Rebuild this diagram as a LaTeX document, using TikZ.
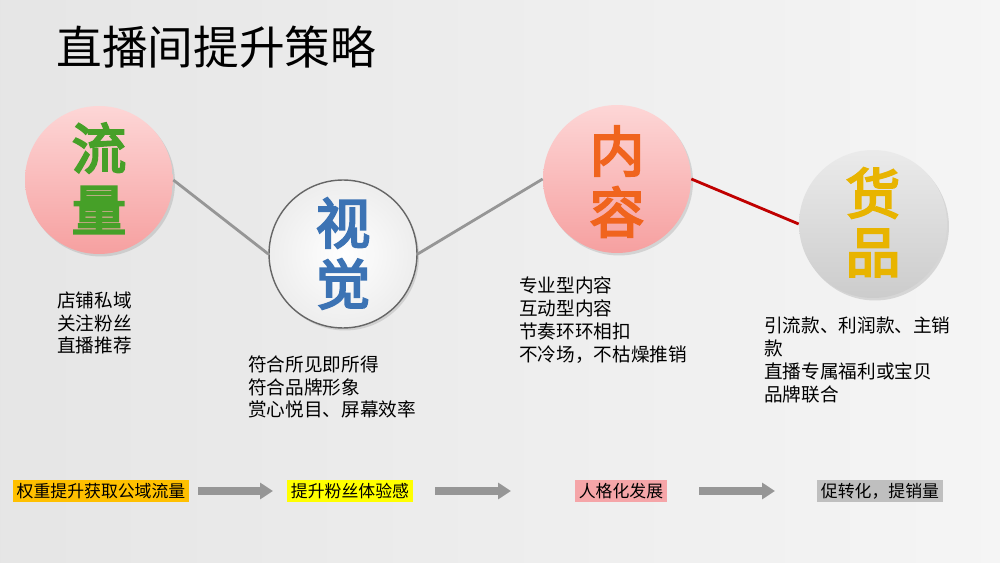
\documentclass[tikz,border=0pt]{standalone}
\usepackage{fontspec}
\setmainfont{Noto Sans CJK SC}
\newfontfamily\cjkbold[FakeBold=4]{Noto Sans CJK SC}
\usetikzlibrary{shadows,arrows.meta}
\definecolor{pinktop}{RGB}{253,214,214}
\definecolor{pinkbot}{RGB}{246,160,160}
\definecolor{greenc}{RGB}{70,160,40}
\definecolor{bluec}{RGB}{60,115,180}
\definecolor{orangec}{RGB}{240,100,30}
\definecolor{goldc}{RGB}{232,180,0}
\definecolor{linegray}{RGB}{150,150,150}
\definecolor{darkred}{RGB}{192,0,0}
\definecolor{boxorange}{RGB}{255,192,0}
\definecolor{boxyellow}{RGB}{255,255,0}
\definecolor{boxpink}{RGB}{245,165,168}
\definecolor{boxgray}{RGB}{191,191,191}
\definecolor{arrowgray}{RGB}{150,150,150}
\tikzset{
  ball/.style={circle, minimum size=2.96cm, inner sep=0pt,
    drop shadow={shadow xshift=0.04cm, shadow yshift=-0.05cm, opacity=0.25}},
  pinkball/.style={ball, top color=pinktop, bottom color=pinkbot},
  whiteball/.style={ball, draw=black!60, line width=0.8pt, inner color=white, outer color=black!7},
  grayball/.style={ball, top color=black!8, bottom color=black!20},
  bigchar/.style={font=\cjkbold\fontsize{31pt}{31pt}\selectfont, inner sep=0pt},
  body/.style={font=\fontsize{10.6pt}{13pt}\selectfont, align=left, anchor=west, inner sep=0pt},
  tag/.style={font=\fontsize{9.6pt}{11pt}\selectfont, inner xsep=2pt, minimum height=0.44cm, inner ysep=0pt},
  link/.style={line width=1.6pt, linegray},
  flow/.style={arrowgray, line width=0.16cm, -{Triangle[length=0.26cm, width=0.32cm]}}
}
\begin{document}
\begin{tikzpicture}[x=0.02cm, y=-0.02cm]
\useasboundingbox (0,0) rectangle (1000,563);
\shade[left color=black!10, right color=black!4] (0,0) rectangle (1000,563);

\node[anchor=west, inner sep=0pt, font=\fontsize{26pt}{26pt}\selectfont] (title) at (56,47) {直播间提升策略};

% balls
\node[pinkball] (c1) at (99,180) {};
\node[whiteball] (c2) at (343,254) {};
\node[pinkball] (c3) at (617,179) {};
\node[grayball] (c4) at (873,224) {};

% links
\draw[link] (c1.east) -- (c2.west);
\draw[link] (c2.east) -- (c3.west);
\draw[link, darkred] (c3.east) -- (c4.west);

% characters
\node[bigchar, greenc] (t1a) at (99,148) {流};
\node[bigchar, greenc] (t1b) at (99,210) {量};
\node[bigchar, bluec] (t2a) at (343,223) {视};
\node[bigchar, bluec] (t2b) at (343,284) {觉};
\node[bigchar, orangec] (t3a) at (617,151) {内};
\node[bigchar, orangec] (t3b) at (617,212) {容};
\node[bigchar, goldc] (t4a) at (873,193) {货};
\node[bigchar, goldc] (t4b) at (873,253) {品};

% body text
\node[body] (b1) at (57,323) {店铺私域\\关注粉丝\\直播推荐};
\node[body] (b2) at (248,387) {符合所见即所得\\符合品牌形象\\赏心悦目、屏幕效率};
\node[body] (b3) at (519,320) {专业型内容\\互动型内容\\节奏环环相扣\\不冷场，不枯燥推销};
\node[body] (b4) at (764,360) {引流款、利润款、主销\\款\\直播专属福利或宝贝\\品牌联合};

% bottom tags
\node[tag, fill=boxorange] (g1) at (101,491) {权重提升获取公域流量};
\node[tag, fill=boxyellow] (g2) at (350,491) {提升粉丝体验感};
\node[tag, fill=boxpink] (g3) at (621,491) {人格化发展};
\node[tag, fill=boxgray] (g4) at (880,491) {促转化，提销量};

\coordinate (a1s) at (198,491); \coordinate (a1e) at (273,491);
\coordinate (a2s) at (435,491); \coordinate (a2e) at (511,491);
\coordinate (a3s) at (699,491); \coordinate (a3e) at (775,491);
\draw[flow] (a1s) -- (a1e);
\draw[flow] (a2s) -- (a2e);
\draw[flow] (a3s) -- (a3e);
\end{tikzpicture}
\end{document}
